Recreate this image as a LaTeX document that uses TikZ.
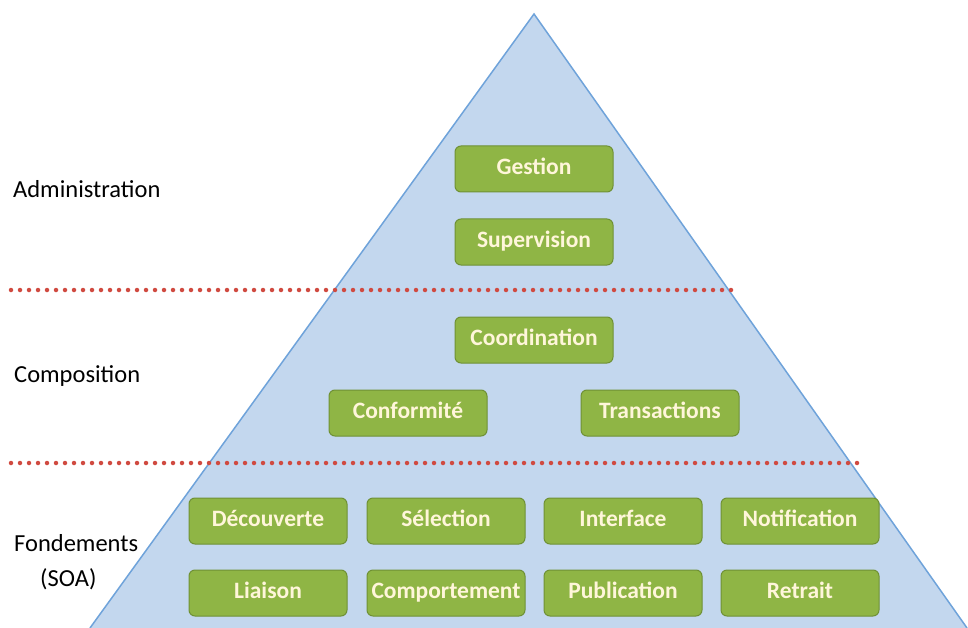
\documentclass[tikz,border=0pt]{standalone}
\usepackage{fontspec}
\setmainfont{Carlito}
\definecolor{triFill}{HTML}{C3D7EE}
\definecolor{triEdge}{HTML}{6FA3DA}
\definecolor{boxFill}{HTML}{8FB545}
\definecolor{boxEdge}{HTML}{6F9135}
\definecolor{boxText}{HTML}{FFF6DA}
\definecolor{dotRed}{HTML}{D04A40}
\begin{document}
\begin{tikzpicture}[x=1pt,y=-1pt,
  gbox/.style={draw=boxEdge,line width=1pt,fill=boxFill,rounded corners=6pt,
    minimum width=158pt,minimum height=46pt,inner sep=0pt,
    text height=15pt,text depth=4pt,
    text=boxText,font=\fontsize{23.5}{26}\selectfont\bfseries},
  layerlabel/.style={anchor=base west,inner sep=0pt,font=\fontsize{24.5}{28}\selectfont,text=black},
  sep/.style={dotRed,line width=4.5pt,line cap=round,dash pattern=on 0pt off 9pt}]
\useasboundingbox (0,0) rectangle (968,628);
% pyramid
\coordinate (apex) at (534,14);
\coordinate (bl) at (90,628);
\coordinate (br) at (967,628);
\fill[triFill] (apex) -- (bl) -- (br) -- cycle;
\draw[triEdge,line width=1.5pt] (bl) -- (apex) -- (br);
% separators
\coordinate (s1a) at (11,290);
\coordinate (s1b) at (735,290);
\coordinate (s2a) at (11,463);
\coordinate (s2b) at (858,463);
\draw[sep] (s1a) -- (s1b);
\draw[sep] (s2a) -- (s2b);
% boxes
\node[gbox] (gestion) at (534,169) {Gestion};
\node[gbox] (supervision) at (534,242) {Supervision};
\node[gbox] (coordination) at (534,340) {Coordination};
\node[gbox] (conformite) at (408,413) {Conformité};
\node[gbox] (transactions) at (660,413) {Transactions};
\node[gbox] (decouverte) at (268,521) {Découverte};
\node[gbox] (selection) at (446,521) {Sélection};
\node[gbox] (interface) at (623,521) {Interface};
\node[gbox] (notification) at (800,521) {Notification};
\node[gbox] (liaison) at (268,593) {Liaison};
\node[gbox] (comportement) at (446,593) {Comportement};
\node[gbox] (publication) at (623,593) {Publication};
\node[gbox] (retrait) at (800,593) {Retrait};
% labels
\node[layerlabel] (ladmin) at (13,198) {Administration};
\node[layerlabel] (lcomp) at (14,382) {Composition};
\node[layerlabel] (lfond) at (14,551) {Fondements};
\node[layerlabel] (lsoa) at (40,586) {(SOA)};
\end{tikzpicture}
\end{document}
